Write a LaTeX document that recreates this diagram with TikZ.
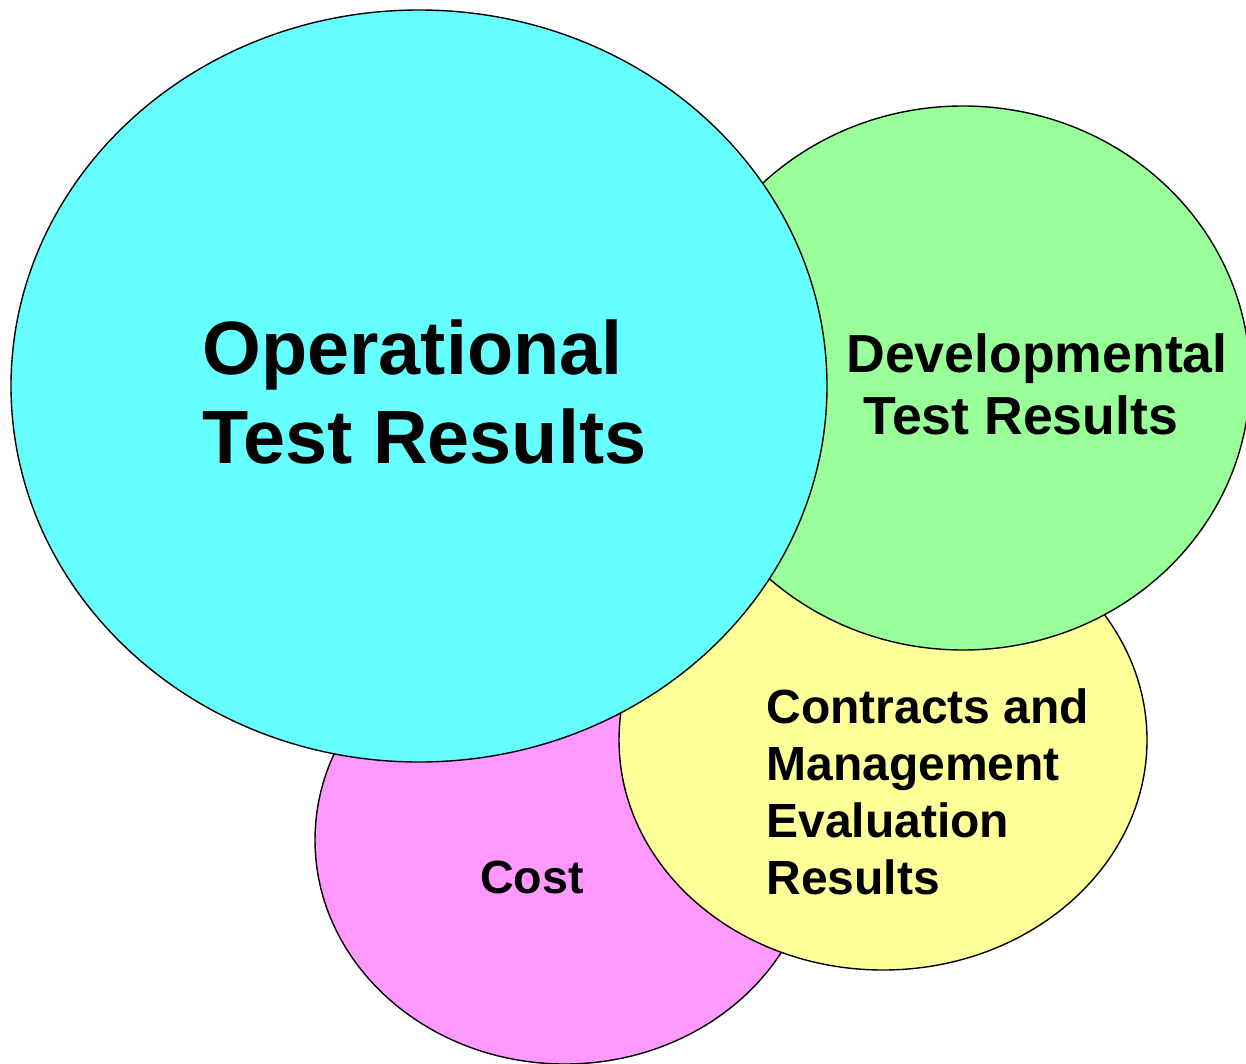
\documentclass[tikz,border=0pt]{standalone}
\usepackage{fontspec}
\setmainfont{Liberation Sans}
\usepackage{xcolor}
\usepackage{tikz}
\usetikzlibrary{positioning,calc}

\definecolor{opcyan}{HTML}{66FFFF}
\definecolor{devgreen}{HTML}{99FF99}
\definecolor{conyellow}{HTML}{FFFF99}
\definecolor{costpink}{HTML}{FF99FF}

\tikzset{
    blob/.style={draw=black, line width=0.7pt},
    lbl/.style={inner sep=0pt, align=left, font=\bfseries}
}

\begin{document}
\begin{tikzpicture}[x=0.5pt,y=-0.5pt]
    \useasboundingbox (0,0) rectangle (1246,1064);

    % Circles, back to front
    \filldraw[blob, fill=costpink] (565,840) ellipse [x radius=250, y radius=224];
    \filldraw[blob, fill=conyellow] (883,740) ellipse [x radius=264, y radius=230];
    \filldraw[blob, fill=devgreen] (963,378) ellipse [x radius=287, y radius=272];
    \filldraw[blob, fill=opcyan] (419,386) ellipse [x radius=408, y radius=376];

    % Labels
    \node[lbl, anchor=north west, font=\fontsize{37.8}{44.5}\selectfont\bfseries]
        (optext) at (202,319) {Operational\\Test Results};
    \node[lbl, anchor=north west, font=\fontsize{26.8}{31}\selectfont\bfseries]
        (devtext) at (846,333) {Developmental\\\hspace*{8.5pt}Test Results};
    \node[lbl, anchor=north west, font=\fontsize{24}{28.5}\selectfont\bfseries]
        (context) at (766,688) {Contracts and\\Management\\Evaluation\\Results};
    \node[lbl, font=\fontsize{23.3}{28}\selectfont\bfseries]
        (costtext) at (532,877) {Cost};
\end{tikzpicture}
\end{document}
